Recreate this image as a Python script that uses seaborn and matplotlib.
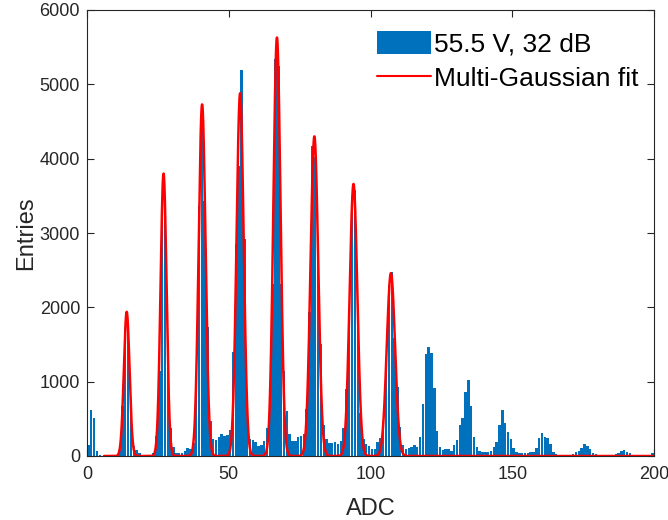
import numpy as np
import pandas as pd
import matplotlib
matplotlib.use("Agg")
import matplotlib.pyplot as plt
from matplotlib.patches import Patch
from matplotlib.lines import Line2D
import seaborn as sns

# ---- data ----
# histogram counts per ADC bin (bins [n, n+1), n = 0..199)
counts = [
    148, 617, 506, 71, 15, 0, 0, 0, 0, 0,
    15, 80, 675, 1735, 1681, 550, 134, 80, 40, 10,
    5, 5, 10, 36, 268, 1145, 3426, 3346, 1311, 371,
    116, 36, 36, 40, 62, 107, 98, 170, 830, 3368,
    4733, 3430, 1730, 470, 233, 219, 255, 300, 268, 277,
    344, 1396, 2850, 3901, 5199, 2917, 702, 233, 210, 188,
    130, 143, 201, 376, 792, 2317, 5337, 5247, 2317, 1145,
    605, 300, 200, 200, 260, 270, 300, 626, 1937, 4174,
    4026, 2774, 1503, 416, 230, 180, 170, 183, 161, 206,
    371, 895, 1946, 3399, 3578, 1901, 573, 233, 161, 134,
    89, 94, 183, 237, 440, 1100, 2300, 2478, 1592, 930,
    394, 148, 94, 103, 125, 148, 125, 250, 698, 1378,
    1467, 1387, 921, 338, 120, 80, 89, 89, 72, 148,
    215, 412, 505, 863, 1020, 671, 250, 125, 72, 58,
    58, 58, 72, 116, 192, 416, 617, 438, 326, 224,
    103, 58, 45, 36, 36, 36, 54, 54, 112, 237,
    304, 259, 246, 157, 58, 22, 18, 18, 18, 18,
    18, 27, 49, 67, 103, 161, 139, 94, 45, 27,
    18, 9, 9, 9, 9, 18, 31, 45, 72, 80,
    54, 45, 18, 9, 5, 5, 5, 5, 5, 36,
]
adc_bins = np.arange(0, 200) + 0.5  # bin centres

# multi-Gaussian fit parameters
fit_centers = [14.0, 27.0, 40.6, 54.0, 67.0, 80.2, 94.0, 107.2]
fit_amps = [1940, 3800, 4730, 4880, 5630, 4300, 3660, 2460]
fit_sigmas = [1.0, 1.05, 1.2, 1.25, 1.25, 1.35, 1.35, 1.45]
fit_range = [6, 200]

x_ticks = [0, 50, 100, 150, 200]
y_ticks = [0, 1000, 2000, 3000, 4000, 5000, 6000]

label_hist = "55.5 V, 32 dB"
label_fit = "Multi-Gaussian fit"

# ---- build tables ----
hist_df = pd.DataFrame({"ADC": adc_bins, "Entries": np.asarray(counts, dtype=float)})
xf = np.linspace(fit_range[0], fit_range[1], 4000)
yf = np.zeros_like(xf)
for c, a, s in zip(fit_centers, fit_amps, fit_sigmas):
    yf += a * np.exp(-0.5 * ((xf - c) / s) ** 2)
fit_df = pd.DataFrame({"ADC": xf, "fit": yf})

# ---- style ----
sns.set_style("ticks")
plt.rcParams["font.family"] = ["Liberation Sans", "DejaVu Sans"]
axcol = "#262626"

fig = plt.figure(figsize=(6.68, 5.20), dpi=100)
ax = fig.add_axes([87 / 668, 64 / 520, (654 - 87) / 668, (456 - 10) / 520])

bar_color = "#0072BD"
sns.histplot(data=hist_df, x="ADC", weights="Entries", binwidth=1, binrange=(0, 200),
             color=bar_color, alpha=1.0, shrink=0.86, linewidth=0, ax=ax)
sns.lineplot(data=fit_df, x="ADC", y="fit", color="#FF0000", linewidth=1.8, ax=ax)

ax.set_xlim(0, 200)
ax.set_ylim(0, 6000)
ax.set_xticks(x_ticks)
ax.set_yticks(y_ticks)
ax.tick_params(direction="in", top=True, right=True, length=5, width=0.8,
               colors=axcol, labelsize=13, labelcolor=axcol)
ax.tick_params(axis="x", pad=7)
ax.tick_params(axis="y", pad=5)
for sp in ax.spines.values():
    sp.set_visible(True)
    sp.set_color(axcol)
    sp.set_linewidth(0.8)

ax.set_xlabel("ADC", fontsize=17, color=axcol, labelpad=11)
ax.set_ylabel("Entries", fontsize=17, color=axcol, labelpad=2)

handles = [Patch(facecolor=bar_color, edgecolor="none"),
           Line2D([0], [0], color="#FF0000", linewidth=1.5)]
leg = fig.legend(handles, [label_hist, label_fit], loc="upper left",
                 bbox_to_anchor=(377 / 668, 1 - 31 / 520), frameon=False,
                 fontsize=19, handlelength=2.04, handleheight=0.95,
                 handletextpad=0.12, labelspacing=0.35, borderpad=0,
                 borderaxespad=0)
for t in leg.get_texts():
    t.set_color("black")

fig.savefig("out.png", dpi=100)
